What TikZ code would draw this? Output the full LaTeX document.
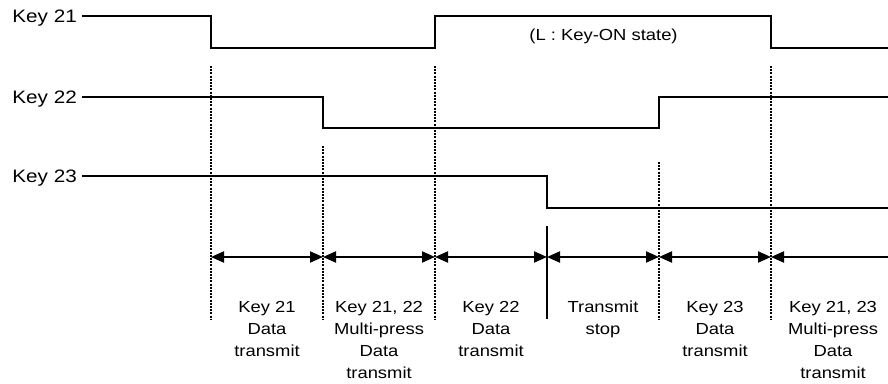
\documentclass[tikz,border=0pt]{standalone}
\usepackage{fontspec}
\setmainfont{Liberation Sans}[FakeStretch=1.15]
\usetikzlibrary{arrows.meta}

\begin{document}
\begin{tikzpicture}[x=1pt,y=-1pt,font=\fontsize{16}{22}\selectfont,
 wave/.style={line width=2pt},
 dotline/.style={line width=2pt,dash pattern=on 2pt off 1.2pt},
 span/.style={line width=2pt,{Triangle[length=13pt,width=11pt]}-{Triangle[length=13pt,width=11pt]}},
 keylbl/.style={anchor=east,text depth=0pt,inner sep=5pt,font=\fontsize{18}{22}\selectfont},
 txt/.style={anchor=north,align=center,inner sep=0pt}]
\useasboundingbox(0,0)rectangle(888,383);
% key waveforms
\node[keylbl](k21)at(82,16){Key 21};\node[keylbl](k22)at(82,97){Key 22};\node[keylbl](k23)at(82,176){Key 23};
\draw[wave](k21.east)-|(211,48)-|(435,16)-|(771,48)--(888,48);
\draw[wave](k22.east)-|(323,128)-|(659,97)--(888,97);
\draw[wave](k23.east)-|(547,208)--(888,208);
\node[anchor=base](note)at(603.5,40){(L : Key-ON state)};
% time marks
\foreach \x/\y in {211/66,323/146,435/66,659/162,771/66}\draw[dotline](\x,\y)--(\x,319);
\draw[wave](547,226)--(547,319);
% spans
\coordinate(a1)at(211,257);\coordinate(a2)at(323,257);\coordinate(a3)at(435,257);\coordinate(a4)at(547,257);
\coordinate(a5)at(659,257);\coordinate(a6)at(771,257);\coordinate(a7)at(888,257);
\draw[span](a1)--(a2);\draw[span](a2)--(a3);\draw[span](a3)--(a4);\draw[span](a4)--(a5);\draw[span](a5)--(a6);
\draw[wave,{Triangle[length=13pt,width=11pt]}-](a6)--(a7);
\node[txt](l1)at(267,301){Key 21\\Data\\transmit};
\node[txt](l2)at(379,301){Key 21, 22\\Multi-press\\Data\\transmit};
\node[txt](l3)at(491,301){Key 22\\Data\\transmit};
\node[txt](l4)at(603,301){Transmit\\stop};
\node[txt](l5)at(715,301){Key 23\\Data\\transmit};
\node[txt](l6)at(833,301){Key 21, 23\\Multi-press\\Data\\transmit};
\end{tikzpicture}
\end{document}
